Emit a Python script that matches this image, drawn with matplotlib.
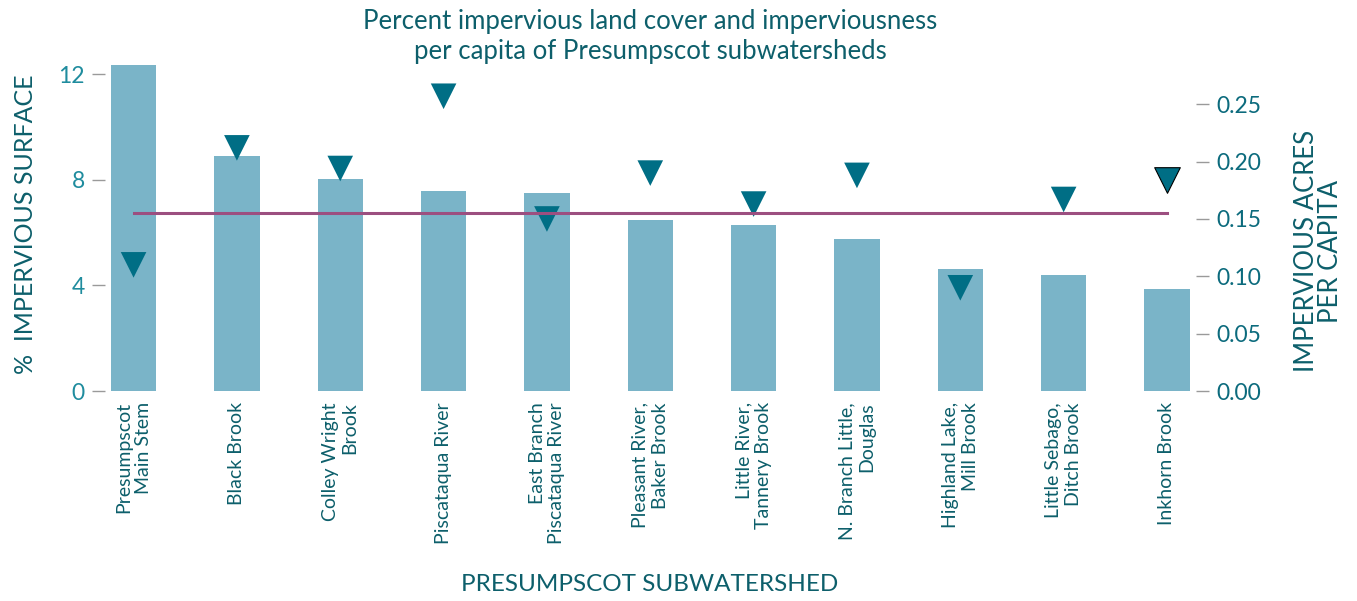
import numpy as np
import matplotlib
matplotlib.use('Agg')
import matplotlib.pyplot as plt

plt.rcParams['font.family'] = ['Lato', 'DejaVu Sans']

# Subwatershed names (x tick labels)
subwatersheds = ['Presumpscot\nMain Stem', 'Black Brook', 'Colley Wright\nBrook',
                 'Piscataqua River', 'East Branch\nPiscataqua River',
                 'Pleasant River,\nBaker Brook', 'Little River,\nTannery Brook',
                 'N. Branch Little,\nDouglas', 'Highland Lake,\nMill Brook',
                 'Little Sebago,\nDitch Brook', 'Inkhorn Brook']
# Percent impervious surface (bars, left axis)
pct_impervious = [12.35, 8.9, 8.03, 7.58, 7.5, 6.48, 6.29, 5.76, 4.62, 4.39, 3.86]
# Impervious acres per capita (triangles, right axis)
acres_per_capita = [0.110, 0.212, 0.194, 0.257, 0.150, 0.190, 0.163, 0.188, 0.090, 0.167, 0.184]
# Reference line (right axis)
reference_value = 0.155

bar_color = '#7ab4c8'
marker_color = '#006e85'
line_color = '#9c4f80'
dark_teal = '#0d5f6b'
tick_teal = '#1f8c9e'
tick_gray = '#9a9a9a'

fig = plt.figure(figsize=(13.57, 6.01), dpi=100)
ax = fig.add_axes([0.0774, 0.3494, 0.8039, 0.5534])
ax2 = ax.twinx()

x = np.arange(len(subwatersheds))
ax.bar(x, pct_impervious, width=0.44, color=bar_color, zorder=1)

ax2.plot(x, [reference_value] * len(x), color=line_color, lw=2.2, zorder=4)
ax2.scatter(x[:-1], acres_per_capita[:-1], marker='v', s=340, color=marker_color,
            edgecolors='none', zorder=3)
ax2.scatter(x[-1:], acres_per_capita[-1:], marker='v', s=340, color=marker_color,
            edgecolors='black', linewidths=0.8, zorder=3)

ax.set_xlim(-0.276, 10.28)
ax.set_ylim(0, 12.6)
ax2.set_ylim(0, 0.29)

for a in (ax, ax2):
    for s in a.spines.values():
        s.set_visible(False)

ax.set_yticks([0, 4, 8, 12])
ax.tick_params(axis='y', length=9.5, width=1, color=tick_gray, labelcolor=tick_teal,
               labelsize=16.5, pad=5)
ax2.set_yticks([0, 0.05, 0.10, 0.15, 0.20, 0.25])
ax2.set_yticklabels(['0.00', '0.05', '0.10', '0.15', '0.20', '0.25'])
ax2.tick_params(axis='y', length=9.5, width=1, color=tick_gray, labelcolor='#0c6b7d',
                labelsize=16.5, pad=5)

ax.set_xticks(x)
ax.set_xticklabels(subwatersheds, rotation=90, ha='center', va='top',
                   multialignment='right', color=dark_teal, fontsize=14)
ax.tick_params(axis='x', length=0, pad=8)

ax.set_ylabel('%  IMPERVIOUS SURFACE', color=dark_teal, fontsize=18)
ax.yaxis.set_label_coords(-0.062, 0.5)
ax2.set_ylabel('IMPERVIOUS ACRES\nPER CAPITA', color=dark_teal, fontsize=18.5,
               linespacing=0.95, rotation=90, va='center')
ax2.yaxis.set_label_coords(1.112, 0.42)

fig.text(0.479, 0.985, 'Percent impervious land cover and imperviousness\nper capita of Presumpscot subwatersheds',
         ha='center', va='top', color=dark_teal, fontsize=18.5, linespacing=1.25)
fig.text(0.479, 0.028, 'PRESUMPSCOT SUBWATERSHED', ha='center', va='center',
         color=dark_teal, fontsize=17.5)

fig.savefig('out.png', dpi=100)
